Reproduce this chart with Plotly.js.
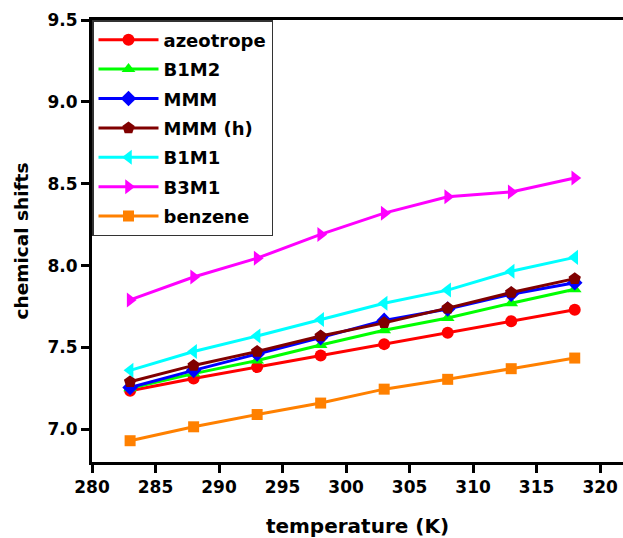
<!DOCTYPE html>
<html>
<head>
<meta charset="utf-8">
<script src="https://cdn.plot.ly/plotly-3.0.1.min.js"></script>
<style>html,body{margin:0;padding:0;background:#fff;}#chart{width:623px;height:538px;}</style>
</head>
<body>
<div id="chart"></div>
<script>
var temperature = [283, 288, 293, 298, 303, 308, 313, 318];
var azeotrope = [7.235, 7.31, 7.38, 7.45, 7.52, 7.59, 7.66, 7.73];
var B1M2 = [7.25, 7.34, 7.42, 7.515, 7.605, 7.68, 7.77, 7.855];
var MMM = [7.255, 7.36, 7.46, 7.56, 7.665, 7.735, 7.825, 7.895];
var MMMh = [7.29, 7.39, 7.475, 7.57, 7.65, 7.74, 7.835, 7.92];
var B1M1 = [7.36, 7.475, 7.57, 7.67, 7.77, 7.85, 7.965, 8.05];
var B3M1 = [7.79, 7.93, 8.045, 8.19, 8.32, 8.42, 8.45, 8.535];
var benzene = [6.93, 7.015, 7.09, 7.16, 7.245, 7.305, 7.37, 7.435];

var seriesNames = ['azeotrope', 'B1M2', 'MMM', 'MMM (h)', 'B1M1', 'B3M1', 'benzene'];
var seriesValues = [azeotrope, B1M2, MMM, MMMh, B1M1, B3M1, benzene];
var seriesColors = ['#ff0000', '#00ff00', '#0000ff', '#800000', '#00ffff', '#ff00ff', '#ff8000'];
var seriesSymbols = ['circle', 'triangle-up', 'diamond', 'pentagon', 'triangle-left', 'triangle-right', 'square'];
var seriesSizes = [12, 12, 12, 13, 13, 13, 11];

var fam = 'DejaVu Sans, Liberation Sans, Arial, sans-serif';

var traces = seriesNames.map(function (n, i) {
  return {
    x: temperature,
    y: seriesValues[i],
    name: n,
    legendgroup: 'g' + i,
    type: 'scatter',
    mode: 'lines+markers',
    line: {color: seriesColors[i], width: 3},
    marker: {color: seriesColors[i], symbol: seriesSymbols[i], size: seriesSizes[i]}
  };
});

var layout = {
  width: 623,
  height: 538,
  margin: {l: 92, r: 0, t: 20, b: 76},
  paper_bgcolor: '#ffffff',
  plot_bgcolor: '#ffffff',
  showlegend: true,
  legend: {
    x: 0, y: 1, xanchor: 'left', yanchor: 'top',
    bgcolor: '#ffffff',
    bordercolor: '#333333',
    borderwidth: 1.5,
    font: {family: fam, weight: 'bold', size: 18, color: '#000'},
    itemwidth: 60,
    traceorder: 'grouped',
    tracegroupgap: 3
  },
  xaxis: {
    range: [280, 321.8],
    tick0: 280, dtick: 5,
    ticks: 'outside', ticklen: 8, tickwidth: 3, tickcolor: '#000',
    showline: true, linewidth: 3, linecolor: '#000', mirror: true,
    showgrid: false, zeroline: false,
    tickfont: {family: fam, weight: 'bold', size: 17, color: '#000'},
    title: {text: 'temperature (K)', font: {family: fam, weight: 'bold', size: 20, color: '#000'}, standoff: 24}
  },
  yaxis: {
    range: [6.8, 9.5],
    tick0: 7, dtick: 0.5, tickformat: '.1f',
    ticks: 'outside', ticklen: 8, tickwidth: 3, tickcolor: '#000',
    showline: true, linewidth: 3, linecolor: '#000',
    showgrid: false, zeroline: false,
    tickfont: {family: fam, weight: 'bold', size: 17, color: '#000'},
    title: {text: 'chemical shifts', font: {family: fam, weight: 'bold', size: 18.5, color: '#000'}, standoff: 14}
  }
};

Plotly.newPlot('chart', traces, layout, {displayModeBar: false, staticPlot: true});
</script>
</body>
</html>
